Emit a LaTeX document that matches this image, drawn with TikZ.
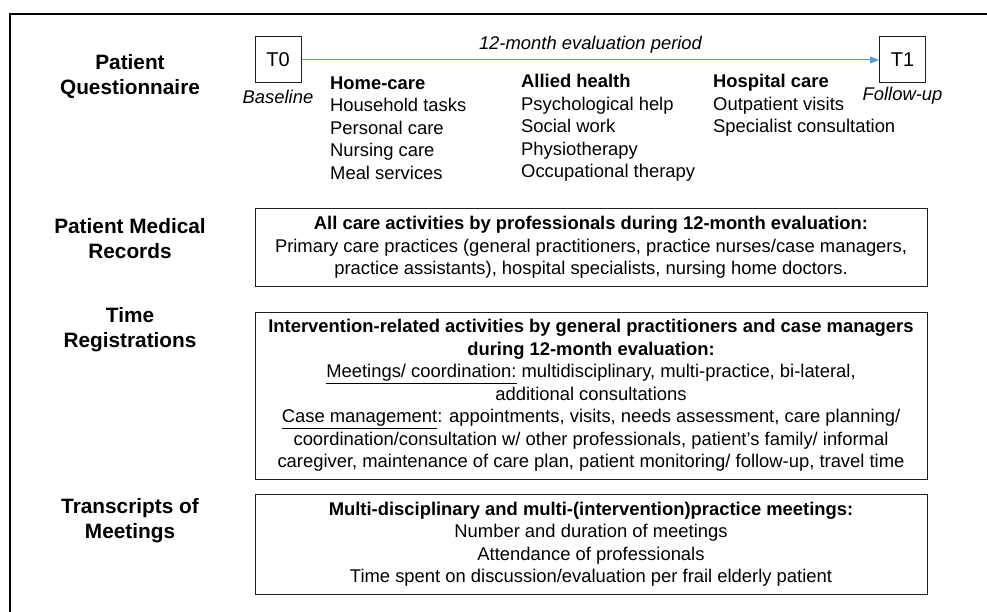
\documentclass[tikz,border=0pt]{standalone}
\usepackage{fontspec}
\setmainfont{Liberation Sans}
\usetikzlibrary{arrows.meta}
\definecolor{arrowblue}{RGB}{91,155,213}
\definecolor{boxline}{RGB}{30,30,30}
\begin{document}
\begin{tikzpicture}[x=1pt,y=-1pt,
  txt/.style={inner sep=0pt,font=\fontsize{18.4}{22.5}\selectfont,text=black},
  itxt/.style={inner sep=0pt,font=\fontsize{18.4}{22.5}\selectfont\itshape,text=black},
  lbl/.style={inner sep=0pt,align=center,font=\fontsize{20.8}{25}\selectfont\bfseries,text=black},
  tbox/.style={draw=boxline,line width=1pt,minimum size=46pt,inner sep=0pt,font=\fontsize{20}{25}\selectfont},
  infobox/.style={draw=boxline,line width=1pt,minimum width=672pt,inner sep=0pt,align=center,font=\fontsize{18.4}{22.5}\selectfont,text=black},
  col/.style={txt,align=left,anchor=west},
  timeline/.style={draw=arrowblue,line width=1pt,-{Triangle[length=9pt,width=7pt]}}
]
\useasboundingbox (0,0) rectangle (987,612);
% frame
\coordinate (fbl) at (10,612);
\coordinate (ftl) at (10,14);
\coordinate (ftr) at (987,14);
\draw[line width=2pt] (fbl) -- (ftl) -- (ftr);

% left labels
\node[lbl] (lq) at (130,76.5) {Patient\\Questionnaire};
\node[lbl] (lm) at (130,239) {Patient Medical\\Records};
\node[lbl] (lt) at (130,329.5) {Time\\Registrations};
\node[lbl] (lr) at (130,520.5) {Transcripts of\\Meetings};

% timeline
\node[tbox] (t0) at (278,60) {T0};
\node[tbox] (t1) at (902.5,60) {T1};
\draw[timeline] (t0) -- (t1);
\node[itxt] (period) at (590.5,45) {12-month evaluation period};
\node[itxt] (base) at (278,97) {Baseline};
\node[itxt] (fu) at (902.5,96) {Follow-up};

% columns
\node[col] (home) at (330,128) {\textbf{Home-care}\\Household tasks\\Personal care\\Nursing care\\Meal services};
\node[col] (allied) at (521,128) {\textbf{Allied health}\\Psychological help\\Social work\\Physiotherapy\\Occupational therapy};
\node[col] (hosp) at (713,105.5) {\textbf{Hospital care}\\Outpatient visits\\Specialist consultation};

% boxes
\node[infobox,minimum height=77pt] (mr) at (591,247.5) {\textbf{All care activities by professionals during 12-month evaluation:}\\
Primary care practices (general practitioners, practice nurses/case managers,\\
practice assistants), hospital specialists, nursing home doctors.};

\node[infobox,minimum height=167pt] (tr) at (591,395.5) {\textbf{Intervention-related activities by general practitioners and case managers}\\
\textbf{during 12-month evaluation:}\\
\underline{Meetings/ coordination:} multidisciplinary, multi-practice, bi-lateral,\\
additional consultations\\
\underline{Case management}: appointments, visits, needs assessment, care planning/\\
coordination/consultation w/ other professionals, patient’s family/ informal\\
caregiver, maintenance of care plan, patient monitoring/ follow-up, travel time};

\node[infobox,minimum height=100pt] (tm) at (591,544) {\textbf{Multi-disciplinary and multi-(intervention)practice meetings:}\\
Number and duration of meetings\\
Attendance of professionals\\
Time spent on discussion/evaluation per frail elderly patient};
\end{tikzpicture}
\end{document}
